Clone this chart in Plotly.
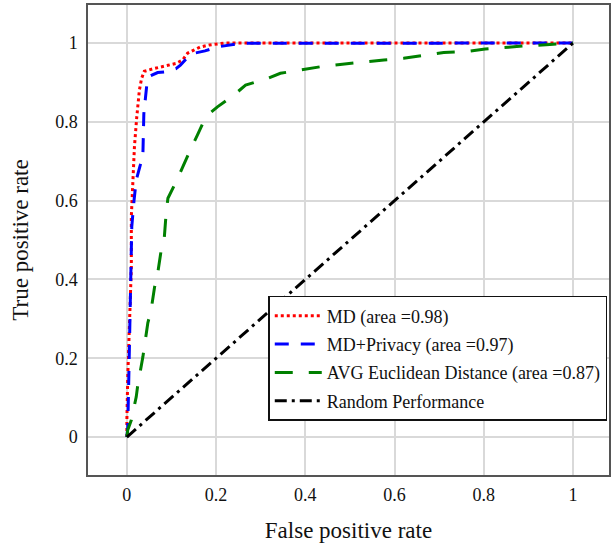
import plotly.graph_objects as go

# ---- data ----
fpr_md = [0, 0.0, 0.002, 0.006, 0.010, 0.010, 0.013, 0.017, 0.022, 0.028, 0.033, 0.039, 0.06,
          0.092, 0.11, 0.125, 0.136, 0.15, 0.165, 0.185, 0.2, 0.22, 0.25, 1.0]
tpr_md = [0, 0.043, 0.153, 0.28, 0.43, 0.56, 0.65, 0.737, 0.81, 0.88, 0.91, 0.928, 0.935,
          0.944, 0.948, 0.957, 0.974, 0.982, 0.99, 0.995, 0.997, 1.0, 1.0, 1.0]

fpr_mdp = [0, 0.002, 0.004, 0.006, 0.010, 0.011, 0.016, 0.021, 0.030, 0.036, 0.038, 0.045, 0.05,
           0.069, 0.087, 0.11, 0.12, 0.135, 0.151, 0.175, 0.203, 0.23, 0.254, 1.0]
tpr_mdp = [0, 0.026, 0.13, 0.26, 0.41, 0.534, 0.6, 0.652, 0.69, 0.72, 0.82, 0.898, 0.915,
           0.925, 0.927, 0.935, 0.944, 0.962, 0.974, 0.98, 0.99, 0.995, 0.999, 1.0]

fpr_avg = [0, 0.002, 0.01, 0.021, 0.024, 0.036, 0.047, 0.054, 0.062, 0.069, 0.077, 0.084, 0.088,
           0.092, 0.112, 0.125, 0.144, 0.158, 0.177, 0.203, 0.24, 0.266, 0.315, 0.344, 0.386,
           0.435, 0.483, 0.528, 0.576, 0.62, 0.669, 0.71, 0.758, 0.803, 0.855, 0.895, 0.948, 1.0]
tpr_avg = [0, 0.018, 0.043, 0.102, 0.128, 0.204, 0.29, 0.32, 0.38, 0.415, 0.475, 0.508, 0.568,
           0.606, 0.652, 0.686, 0.733, 0.766, 0.813, 0.838, 0.868, 0.893, 0.91, 0.923, 0.931,
           0.94, 0.946, 0.952, 0.957, 0.961, 0.97, 0.976, 0.978, 0.985, 0.989, 0.993, 0.996, 1.0]

fpr_rand = [0, 1]
tpr_rand = [0, 1]

names = ["MD (area =0.98)", "MD+Privacy (area =0.97)",
         "AVG Euclidean Distance (area =0.87)", "Random Performance"]
tick_vals = [0, 0.2, 0.4, 0.6, 0.8, 1]
tick_text = ["0", "0.2", "0.4", "0.6", "0.8", "1"]

FONT = "Liberation Serif"

fig = go.Figure()
series = [
    (fpr_md, tpr_md, names[0], "#ff0000", "dot"),
    (fpr_mdp, tpr_mdp, names[1], "#0000ff", "14px,12px"),
    (fpr_avg, tpr_avg, names[2], "#008000", "18px,16px"),
    (fpr_rand, tpr_rand, names[3], "#000000", "12px,5px,3px,5px"),
]
for i, (x, y, n, c, d) in enumerate(series):
    fig.add_trace(go.Scatter(x=x, y=y, name=n, mode="lines", legendgroup=str(i),
                             line=dict(color=c, width=3, dash=d)))

axis_common = dict(
    tickvals=tick_vals, ticktext=tick_text,
    showgrid=True, gridcolor="#d9d9d9", gridwidth=1.5,
    zeroline=False, showline=True, mirror=True, linecolor="#555555", linewidth=1.5,
    ticks="", tickfont=dict(family=FONT, size=18, color="#111"),
)
fig.update_layout(
    width=613, height=546,
    margin=dict(l=88, r=2, t=5, b=71),
    plot_bgcolor="white", paper_bgcolor="white",
    font=dict(family=FONT, color="#111"),
    xaxis=dict(range=[-0.0871, 1.0804], ticklabelstandoff=3,
               title=dict(text="False positive rate", font=dict(family=FONT, size=23), standoff=18),
               **axis_common),
    yaxis=dict(range=[-0.0964, 1.0964], ticklabelstandoff=5,
               title=dict(text="True positive rate", font=dict(family=FONT, size=23), standoff=20),
               **axis_common),
    legend=dict(x=0.346, xanchor="left", y=0.115, yanchor="bottom",
                bgcolor="white", bordercolor="#111", borderwidth=1.5,
                font=dict(family=FONT, size=18), tracegroupgap=2,
                itemwidth=47),
    showlegend=True,
)
fig.write_html("out.html")
